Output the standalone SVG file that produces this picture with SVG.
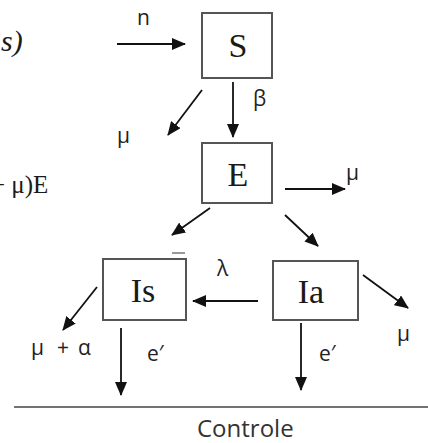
<svg xmlns="http://www.w3.org/2000/svg" width="428" height="443" viewBox="0 0 428 443">
  <style>
    .box { fill: #ffffff; stroke: #555555; stroke-width: 2; }
    .node-label { font-family: "Liberation Serif", "DejaVu Serif", serif; font-size: 34px; fill: #1a1a1a; text-anchor: middle; }
    .side { font-family: "Liberation Serif", "DejaVu Serif", serif; fill: #1a1a1a; }
    .rate { font-family: "Open Sans", "Liberation Sans", sans-serif; font-size: 21px; fill: #222222; }
    .flow { stroke: #111111; stroke-width: 1.8; fill: none; marker-end: url(#head); }
    .caption { font-family: "Open Sans", "Liberation Sans", sans-serif; font-size: 24px; fill: #333333; }
  </style>
  <defs>
    <marker id="head" markerUnits="userSpaceOnUse" markerWidth="14" markerHeight="12" viewBox="0 0 14 12" refX="13" refY="6" orient="auto">
      <path d="M0,0 L14,6 L0,12 z" fill="#111111"/>
    </marker>
  </defs>
  <rect width="428" height="443" fill="#ffffff"/>

  <!-- fragments of the equations on the left edge -->
  <text class="side" x="1" y="51" font-size="30" font-style="italic">s)</text>
  <text class="side" x="-9" y="193" font-size="25">+ μ)E</text>

  <!-- compartments -->
  <g id="node-S">
    <rect class="box" x="202" y="13" width="70" height="65"/>
    <text class="node-label" x="238" y="57">S</text>
  </g>
  <g id="node-E">
    <rect class="box" x="202" y="143" width="70" height="60"/>
    <text class="node-label" x="238" y="186">E</text>
  </g>
  <g id="node-Is">
    <rect class="box" x="103" y="259" width="83" height="61"/>
    <line x1="172" y1="253" x2="185" y2="253" stroke="#777777" stroke-width="1.5"/>
    <text class="node-label" x="143" y="302">Is</text>
  </g>
  <g id="node-Ia">
    <rect class="box" x="273" y="261" width="85" height="59"/>
    <text class="node-label" x="311" y="303">Ia</text>
  </g>

  <!-- transitions -->
  <g id="connectors">
    <line class="flow" x1="117" y1="44" x2="185" y2="44"/>
    <line class="flow" x1="202" y1="90" x2="168" y2="135"/>
    <line class="flow" x1="233" y1="82" x2="233" y2="137"/>
    <line class="flow" x1="285" y1="189" x2="345" y2="189"/>
    <line class="flow" x1="210" y1="208" x2="172" y2="235"/>
    <line class="flow" x1="285" y1="215" x2="318" y2="246"/>
    <line class="flow" x1="258" y1="301" x2="193" y2="301"/>
    <line class="flow" x1="363" y1="275" x2="408" y2="308"/>
    <line class="flow" x1="301" y1="323" x2="301" y2="390"/>
    <line class="flow" x1="97" y1="287" x2="63" y2="330"/>
    <line class="flow" x1="121" y1="328" x2="121" y2="395"/>
  </g>

  <!-- rate labels -->
  <text class="rate" x="137" y="25">n</text>
  <text class="rate" x="117" y="143">μ</text>
  <text class="rate" x="253" y="106">β</text>
  <text class="rate" x="346" y="180">μ</text>
  <text class="rate" x="217" y="276" font-size="19">λ</text>
  <text class="rate" x="397" y="341">μ</text>
  <text class="rate" y="355"><tspan x="31">μ</tspan><tspan x="57">+</tspan><tspan x="78">α</tspan></text>
  <text class="rate" x="147" y="361">e′</text>
  <text class="rate" x="319" y="361">e′</text>

  <!-- control baseline -->
  <line x1="14" y1="407" x2="428" y2="407" stroke="#444444" stroke-width="1.6"/>
  <text class="caption" x="197" y="437">Controle</text>
</svg>
